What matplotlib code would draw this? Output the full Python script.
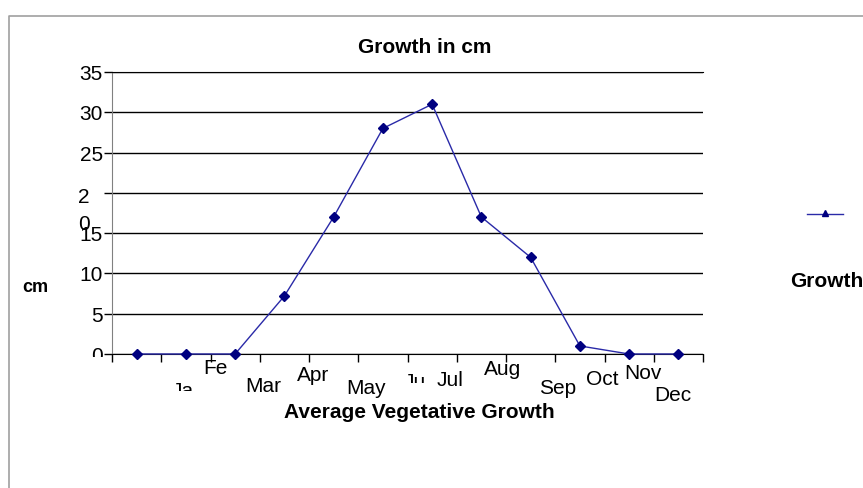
import matplotlib
matplotlib.use("Agg")
import matplotlib.pyplot as plt
from matplotlib.lines import Line2D
from matplotlib.transforms import Bbox, blended_transform_factory, offset_copy

plt.rcParams['font.family'] = ['Liberation Sans', 'DejaVu Sans']

# Data
months = ['Jan', 'Feb', 'Mar', 'Apr', 'May', 'Jun',
          'Jul', 'Aug', 'Sep', 'Oct', 'Nov', 'Dec']
growth = [0, 0, 0, 7.2, 17, 28, 31, 17, 12, 1, 0, 0]

# Tick labels as they show up (some cut off in the original)
x_labels = ['Ja', 'Fe', 'Mar', 'Apr', 'May', 'Ju', 'Jul', 'Aug', 'Sep', 'Oct', 'Nov', 'Dec']
y_ticks = [0, 5, 10, 15, 20, 25, 30, 35]
y_labels = ['0', '5', '10', '15', '2\n0', '25', '30', '35']

# Layout of the staggered month labels (x in category units, baseline in px from top)
x_label_pos = [0.94, 1.61, 2.57, 3.58, 4.66, 5.65, 6.36, 7.44, 8.54, 9.45, 10.28, 10.89]
x_label_base = [397, 374, 392, 381, 394, 388, 386, 375, 394, 385, 379, 401]
x_label_clip = [391, None, None, None, None, 383, None, None, None, None, None, None]

W, H = 863, 488
fig = plt.figure(figsize=(W / 100, H / 100), dpi=100)
fig.patch.set_facecolor('white')

# outer chart frame (only top and left edge visible)
fig.add_artist(Line2D([9 / W, 9 / W, 1], [0, 1 - 16 / H, 1 - 16 / H],
                      transform=fig.transFigure, color='#a0a0a0', lw=1.2))

ax = fig.add_axes([112 / W, (H - 354) / H, (703 - 112) / W, (354 - 72) / H])
x = list(range(len(months)))
ax.plot(x, growth, color='#2a2aa8', lw=1.0, marker='D', markersize=5.5,
        markerfacecolor='#000080', markeredgecolor='#000080', clip_on=False, zorder=3)

ax.set_xlim(-0.5, 11.5)
ax.set_ylim(0, 35)
ax.set_xticks([i - 0.5 for i in range(13)])
ax.set_xticklabels([])
ax.set_yticks(y_ticks)
ax.set_yticklabels([])
ax.tick_params(axis='both', direction='out', length=6, width=1, color='black')
ax.yaxis.grid(True, color='black', lw=1)
ax.set_axisbelow(True)
ax.spines['right'].set_visible(False)
ax.spines['top'].set_color('black')
ax.spines['left'].set_color('#808080')
ax.spines['bottom'].set_color('black')

# y tick labels (a touch below the gridlines, "20" wrapped, "5" and "0" cut off)
ytr = offset_copy(ax.get_yaxis_transform(), fig=fig, x=-9, y=-2.5, units='dots')
for val, lab in zip(y_ticks, y_labels):
    if '\n' in lab:
        top, bot = lab.split('\n')
        fig.text(78 / W, 1 - 203 / H, top, ha='left', va='baseline', fontsize=15)
        fig.text(78 / W, 1 - 230 / H, bot, ha='left', va='baseline', fontsize=15)
        continue
    t = ax.text(0, val, lab, transform=ytr, ha='right', va='center', fontsize=15)
    if val == 0:
        t.set_clip_on(True)
        t.set_clip_box(Bbox.from_extents(0, H - 357, W, H))
    elif val == 5:
        t.set_clip_on(True)
        t.set_clip_box(Bbox.from_extents(0, H - 322, W, H))

# x tick labels
xtr = blended_transform_factory(ax.transData, fig.transFigure)
for lab, px, base, clip in zip(x_labels, x_label_pos, x_label_base, x_label_clip):
    t = ax.text(px, 1 - base / H, lab, transform=xtr, ha='center', va='baseline', fontsize=15)
    if clip is not None:
        t.set_clip_on(True)
        t.set_clip_box(Bbox.from_extents(0, H - clip, W, H))

# titles
fig.text(425 / W, 1 - 53 / H, 'Growth in cm', ha='center', va='baseline',
         fontsize=15, fontweight='bold')
fig.text(419 / W, 1 - 418 / H, 'Average Vegetative Growth', ha='center', va='baseline',
         fontsize=15, fontweight='bold')
fig.text(35 / W, 1 - 288 / H, 'cm', ha='center', va='center', fontsize=13, fontweight='bold')

# legend
fig.add_artist(Line2D([807 / W, 843 / W], [1 - 214 / H, 1 - 214 / H],
                      transform=fig.transFigure, color='#2a2aa8', lw=1.0))
fig.add_artist(Line2D([825 / W], [1 - 213 / H], transform=fig.transFigure, marker='^',
                      markersize=4, color='#000080', lw=0))
fig.text(790 / W, 1 - 287 / H, 'Growth', ha='left', va='baseline',
         fontsize=15, fontweight='bold')

fig.savefig('out.png', dpi=100)
